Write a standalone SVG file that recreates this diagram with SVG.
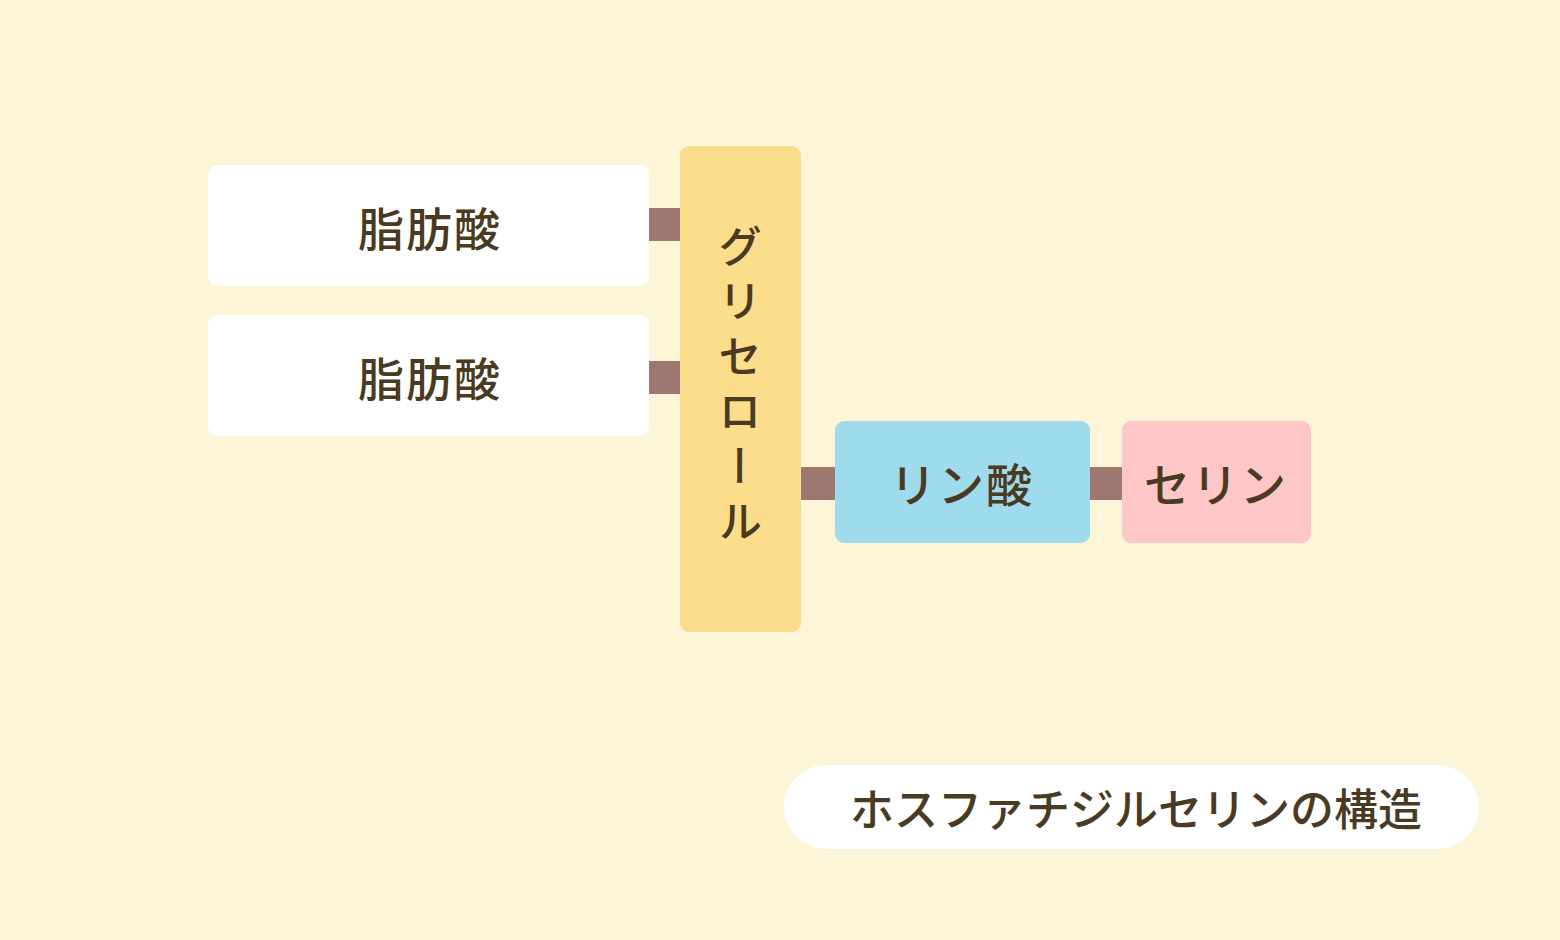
<svg xmlns="http://www.w3.org/2000/svg" width="1560" height="940" viewBox="0 0 1560 940">
<style>
.t{font-family:"Noto Sans CJK JP","Noto Sans CJK SC",sans-serif;fill:#4a3a22;font-weight:500;text-anchor:middle;dominant-baseline:central}
.c{fill:#9e7770}
</style>
<rect width="1560" height="940" fill="#fdf5d8"/>
<g id="connectors">
<rect class="c" x="649" y="208" width="31" height="33"/>
<rect class="c" x="649" y="361" width="31" height="33"/>
<rect class="c" x="801" y="467" width="34" height="33"/>
<rect class="c" x="1090" y="467" width="32" height="33"/>
</g>
<g id="fa1"><rect x="208" y="165" width="441" height="121" rx="9" fill="#fff"/><text class="t" x="430" y="226" font-size="46" letter-spacing="2">脂肪酸</text></g>
<g id="fa2"><rect x="208" y="315" width="441" height="121" rx="9" fill="#fff"/><text class="t" x="430" y="376" font-size="46" letter-spacing="2">脂肪酸</text></g>
<g id="glycerol"><rect x="680" y="146" width="121" height="486" rx="9" fill="#fbdd8c"/><text class="t" x="740" y="389" font-size="44" letter-spacing="11" style="writing-mode:vertical-rl">グリセロール</text></g>
<g id="phosphate"><rect x="835" y="421" width="255" height="122" rx="9" fill="#9edbec"/><text class="t" x="962" y="482" font-size="46" letter-spacing="2">リン酸</text></g>
<g id="serine"><rect x="1122" y="421" width="189" height="122" rx="9" fill="#fec6c6"/><text class="t" x="1216" y="482" font-size="46" letter-spacing="2">セリン</text></g>
<g id="caption"><rect x="784" y="765" width="695" height="84" rx="42" fill="#fff"/><text class="t" x="1136" y="807" font-size="44">ホスファチジルセリンの構造</text></g>
</svg>
